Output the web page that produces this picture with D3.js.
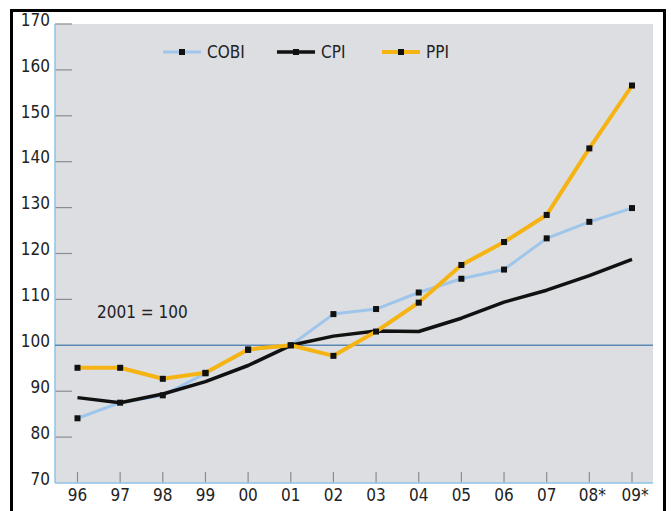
<!DOCTYPE html>
<html>
<head>
<meta charset="utf-8">
<script src="https://cdn.jsdelivr.net/npm/d3@7"></script>
<style>
  body { margin: 0; background: #fff; }
  text { font-family: "DejaVu Sans Condensed", "Liberation Sans Narrow", sans-serif; fill: #222; }
</style>
</head>
<body>
<script>
var years = ["96", "97", "98", "99", "00", "01", "02", "03", "04", "05", "06", "07", "08*", "09*"];
var cobi = [84.1, 87.5, 89.1, 93.9, 99.0, 100, 106.8, 107.9, 111.5, 114.5, 116.5, 123.3, 126.9, 129.9];
var cpi  = [88.6, 87.5, 89.4, 92.1, 95.6, 100, 102.0, 103.1, 103.0, 105.9, 109.4, 112.0, 115.2, 118.7];
var ppi  = [95.1, 95.1, 92.7, 94.0, 99.1, 100, 97.7, 103.0, 109.3, 117.5, 122.5, 128.4, 142.9, 156.6];
var yTicks = [70, 80, 90, 100, 110, 120, 130, 140, 150, 160, 170];

var series = [
	{name: "COBI", values: cobi, color: "#9fc6ea", width: 3, marks: true},
	{name: "CPI", values: cpi, color: "#111111", width: 3.5, marks: false},
	{name: "PPI", values: ppi, color: "#f6b414", width: 4, marks: true}
];

var W = 671, H = 511;
var plot = {left: 55, right: 653, top: 24, bottom: 483};

var svg = d3.select("body").append("svg")
	.attr("width", W)
	.attr("height", H)
;

var x = d3.scalePoint().domain(years).range([77.5, 632]);
var y = d3.scaleLinear().domain([70, 170]).range([plot.bottom, plot.top]);

// outer frame
svg.append("rect")
	.attr("x", 11.5).attr("y", 10.5)
	.attr("width", 653).attr("height", 520)
	.style("fill", "#fff")
	.style("stroke", "#000")
	.style("stroke-width", 3)
;

// plot background
svg.append("rect")
	.attr("x", plot.left).attr("y", plot.top)
	.attr("width", plot.right - plot.left)
	.attr("height", plot.bottom - plot.top)
	.style("fill", "#dcdee2")
;

// y ticks (inside) and labels
var yAxis = svg.append("g");
yAxis.selectAll("line")
	.data(yTicks.filter(function(d) { return d != 70 && d != 100; }))
	.enter().append("line")
		.attr("x1", plot.left).attr("x2", plot.left + 17)
		.attr("y1", function(d) { return y(d); })
		.attr("y2", function(d) { return y(d); })
		.style("stroke", "#8a8c90")
		.style("stroke-width", 1.2)
;
yAxis.selectAll("text")
	.data(yTicks)
	.enter().append("text")
		.attr("x", plot.left - 5)
		.attr("y", function(d) { return y(d); })
		.attr("dy", "0.1em")
		.attr("text-anchor", "end")
		.attr("font-size", 17)
		.text(function(d) { return d; })
;

// x ticks and labels
var xAxis = svg.append("g");
xAxis.selectAll("line")
	.data(years)
	.enter().append("line")
		.attr("x1", function(d) { return x(d); })
		.attr("x2", function(d) { return x(d); })
		.attr("y1", plot.bottom - 11).attr("y2", plot.bottom)
		.style("stroke", "#8a8c90")
		.style("stroke-width", 1.2)
;
xAxis.selectAll("text")
	.data(years)
	.enter().append("text")
		.attr("x", function(d) { return x(d) + (d.indexOf("*") > 0 ? 3 : 0); })
		.attr("y", plot.bottom + 18)
		.attr("text-anchor", "middle")
		.attr("font-size", 17)
		.text(function(d) { return d; })
;

// axis lines
svg.append("line")
	.attr("x1", plot.left).attr("x2", plot.left)
	.attr("y1", plot.top).attr("y2", plot.bottom)
	.style("stroke", "#8ec3e6").style("stroke-width", 1.5)
;
svg.append("line")
	.attr("x1", plot.left).attr("x2", plot.right)
	.attr("y1", plot.bottom).attr("y2", plot.bottom)
	.style("stroke", "#8ec3e6").style("stroke-width", 1.5)
;

// 2001 = 100 reference
svg.append("line")
	.attr("x1", plot.left).attr("x2", plot.right)
	.attr("y1", y(100)).attr("y2", y(100))
	.style("stroke", "#5b87b3").style("stroke-width", 1.5)
;
svg.append("text")
	.attr("x", 97).attr("y", y(106) )
	.attr("font-size", 17)
	.text("2001 = 100")
;

// series
var line = d3.line()
	.x(function(d, i) { return x(years[i]); })
	.y(function(d) { return y(d); })
;

series.forEach(function(s) {
	svg.append("path")
		.datum(s.values)
		.attr("d", line)
		.style("fill", "none")
		.style("stroke", s.color)
		.style("stroke-width", s.width)
		.style("stroke-linejoin", "round")
	;
});
series.forEach(function(s) {
	if (!s.marks) return;
	svg.append("g").selectAll("rect")
		.data(s.values)
		.enter().append("rect")
			.attr("x", function(d, i) { return x(years[i]) - 3; })
			.attr("y", function(d) { return y(d) - 3; })
			.attr("width", 6).attr("height", 6)
			.style("fill", "#111")
	;
});

// legend
var legend = svg.append("g");
var legX = [163, 277, 382];
series.forEach(function(s, i) {
	var g = legend.append("g").attr("transform", "translate(" + legX[i] + ",52)");
	g.append("line")
		.attr("x1", 0).attr("x2", 38)
		.style("stroke", s.color)
		.style("stroke-width", s.width)
	;
	g.append("rect")
		.attr("x", 16).attr("y", -3)
		.attr("width", 6).attr("height", 6)
		.style("fill", "#111")
	;
	g.append("text")
		.attr("x", 44).attr("dy", "0.35em")
		.attr("font-size", 17)
		.text(s.name)
	;
});
</script>
</body>
</html>
